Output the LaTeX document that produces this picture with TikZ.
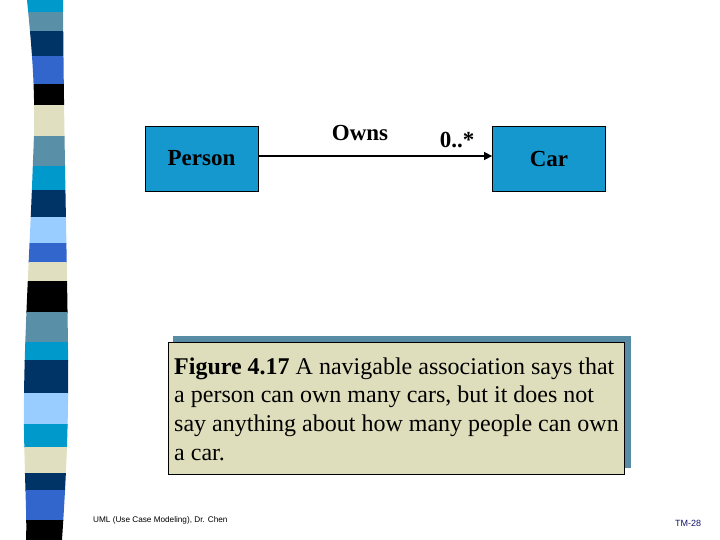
\documentclass[tikz,border=0pt]{standalone}
\usepackage{fontspec}
\setmainfont{Liberation Serif}
\newfontfamily\footfont{Liberation Sans}
\usetikzlibrary{arrows.meta}
\definecolor{cyanb}{RGB}{0,153,204}
\definecolor{steelb}{RGB}{90,143,168}
\definecolor{navyb}{RGB}{0,51,102}
\definecolor{royalb}{RGB}{51,102,204}
\definecolor{lightb}{RGB}{153,204,255}
\definecolor{beigeb}{RGB}{224,224,192}
\definecolor{boxblue}{RGB}{20,152,206}
\definecolor{capfill}{RGB}{222,222,188}
\definecolor{shadowb}{RGB}{88,140,165}
\definecolor{tmnavy}{RGB}{20,20,110}
\tikzset{
  classbox/.style={draw=black, line width=0.8pt, fill=boxblue, minimum width=113pt, minimum height=65pt, inner sep=0pt, font=\bfseries\fontsize{23}{27}\selectfont},
  lbl/.style={font=\bfseries\fontsize{23}{27}\selectfont, inner sep=0pt},
  assoc/.style={line width=1.5pt, -{Triangle[length=8pt,width=8pt]}},
}
\begin{document}
\begin{tikzpicture}[x=1pt,y=-1pt]
\useasboundingbox (0,0) rectangle (720,540);
\fill[white] (0,0) rectangle (720,540);
% striped bar
\begin{scope}
\clip (27,0) .. controls (33,60) and (36,100) .. (33,160) .. controls (30,250) and (23,350) .. (24,430) .. controls (25,490) and (27,520) .. (26,540)
  -- (62,540) .. controls (66,480) and (69,420) .. (68,350) .. controls (67,250) and (64,150) .. (63,0) -- cycle;
\foreach \ya/\yb/\c in {0/12/cyanb,12/31/steelb,31/56/navyb,56/84/royalb,84/105/black,105/136/beigeb,136/166/steelb,166/190/cyanb,190/217/navyb,217/243/lightb,243/262/royalb,262/281/beigeb,281/312/black,312/342/steelb,342/360/cyanb,360/393/navyb,393/424/lightb,424/447/cyanb,447/473/beigeb,473/490/navyb,490/520/royalb,520/540/black}
  \fill[\c] (0,\ya) rectangle (100,\yb+0.5);
\end{scope}
% classes
\node[classbox] (person) at (201.5,158.5) {Person};
\node[classbox] (car) at (549,158.5) {Car};
\draw[assoc] (person.east |- 0,156) -- (car.west |- 0,156);
\node[lbl] (owns) at (360,133) {Owns};
\node[lbl] (mult) at (457,140) {0..*};
% caption
\fill[shadowb] (173,336) rectangle (631,468);
\node[draw=black, line width=0.8pt, fill=capfill, minimum width=456pt, minimum height=132pt, inner sep=0pt] (cap) at (396,408) {};
\node[anchor=base west, align=left, inner sep=0pt, font=\fontsize{24}{28.6}\selectfont] (captext) at (174,460)
{\textbf{Figure 4.17} A navigable association says that\\a person can own many cars, but it does not\\say anything about how many people can own\\a car.};
% footer
\node[anchor=west, inner sep=0pt, font=\footfont\fontsize{8.2}{9}\selectfont] (foot) at (93,520) {UML (Use Case Modeling), Dr. Chen};
\node[anchor=west, inner sep=0pt, text=tmnavy, font=\footfont\fontsize{9}{10}\selectfont] (tm) at (675,523) {TM-28};
\end{tikzpicture}
\end{document}
